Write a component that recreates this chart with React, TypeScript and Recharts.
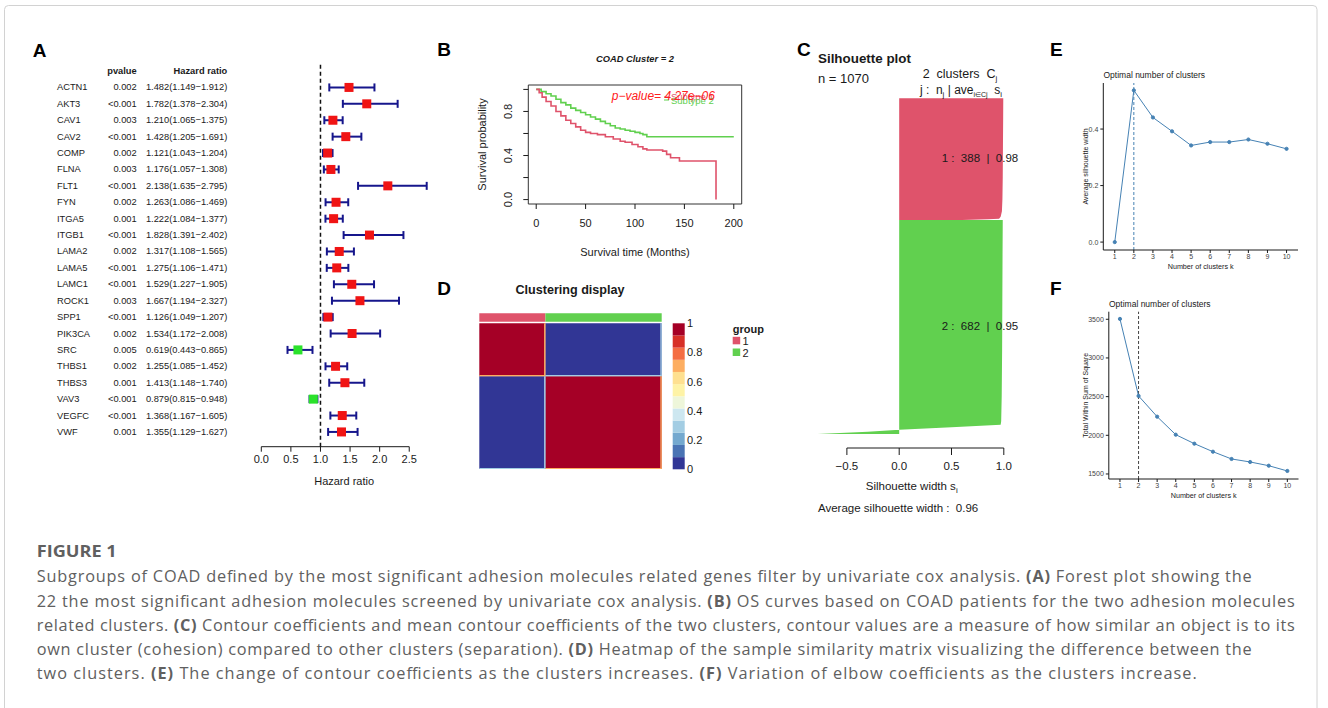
import React from "react";
import {
  Area,
  AreaChart,
  Bar,
  BarChart,
  ErrorBar,
  Line,
  LineChart,
  ReferenceArea,
  ReferenceLine,
  Scatter,
  ScatterChart,
  XAxis,
  YAxis,
} from "recharts";

// ---- A: univariate cox forest plot ----
const genes = [
  "ACTN1", "AKT3", "CAV1", "CAV2", "COMP", "FLNA", "FLT1", "FYN", "ITGA5", "ITGB1", "LAMA2",
  "LAMA5", "LAMC1", "ROCK1", "SPP1", "PIK3CA", "SRC", "THBS1", "THBS3", "VAV3", "VEGFC", "VWF",
];
const pvalues = [
  "0.002", "<0.001", "0.003", "<0.001", "0.002", "0.003", "<0.001", "0.002", "0.001", "<0.001", "0.002",
  "<0.001", "<0.001", "0.003", "<0.001", "0.002", "0.005", "0.002", "0.001", "<0.001", "<0.001", "0.001",
];
const hazardRatio = [
  1.482, 1.782, 1.21, 1.428, 1.121, 1.176, 2.138, 1.263, 1.222, 1.828, 1.317,
  1.275, 1.529, 1.667, 1.126, 1.534, 0.619, 1.255, 1.413, 0.879, 1.368, 1.355,
];
const hrLower = [
  1.149, 1.378, 1.065, 1.205, 1.043, 1.057, 1.635, 1.086, 1.084, 1.391, 1.108,
  1.106, 1.227, 1.194, 1.049, 1.172, 0.443, 1.085, 1.148, 0.815, 1.167, 1.129,
];
const hrUpper = [
  1.912, 2.304, 1.375, 1.691, 1.204, 1.308, 2.795, 1.469, 1.377, 2.402, 1.565,
  1.471, 1.905, 2.327, 1.207, 2.008, 0.865, 1.452, 1.74, 0.948, 1.605, 1.627,
];
const hrTicks = [0, 0.5, 1, 1.5, 2, 2.5];

// ---- B: KM curves ----
const survTime1 = [0, 3, 6, 10, 15, 20, 25, 30, 35, 40, 45, 50, 55, 62, 70, 78, 85, 90, 97, 103, 108, 112, 128, 132, 136, 145, 182];
const survProb1 = [1, 0.97, 0.93, 0.89, 0.85, 0.8, 0.76, 0.72, 0.69, 0.66, 0.63, 0.61, 0.6, 0.59, 0.57, 0.55, 0.53, 0.52, 0.5, 0.48, 0.46, 0.45, 0.44, 0.41, 0.38, 0.35, 0];
const survTime2 = [0, 5, 10, 15, 20, 25, 30, 35, 40, 45, 50, 55, 60, 65, 70, 75, 80, 85, 90, 95, 100, 105, 108, 112, 200];
const survProb2 = [1, 0.98, 0.96, 0.94, 0.91, 0.88, 0.86, 0.83, 0.81, 0.79, 0.77, 0.75, 0.73, 0.71, 0.69, 0.67, 0.65, 0.64, 0.63, 0.62, 0.61, 0.6, 0.59, 0.57, 0.57];
const survXTicks = [0, 50, 100, 150, 200];
const survYTicks = [0, 0.2, 0.4, 0.6, 0.8, 1];
const survYLabelled = [0, 0.4, 0.8];

// ---- C: silhouette ----
const clusterSizes = [388, 682];
const clusterMeanSil = ["0.98", "0.95"];
const sil1Obs = [0, 60, 150, 250, 320, 360, 378, 384, 386, 388];
const sil1Width = [0.995, 0.994, 0.992, 0.99, 0.987, 0.982, 0.97, 0.955, 0.85, 0.6];
const sil2Obs = [388, 500, 650, 800, 950, 1030, 1041, 1049, 1057, 1063, 1070];
const sil2Width = [0.99, 0.988, 0.986, 0.984, 0.98, 0.975, 0.97, 0.5, 0, -0.3, -0.78];
const silTicks = [-0.5, 0, 0.5, 1];

// ---- D: consensus heatmap ----
const clusterSimilarity = [
  [1, 0],
  [0, 1],
];
const tailSize = 8;
const tailOwnSimilarity = 0.68;
const tailOtherSimilarity = 0.3;
const heatPalette = [
  "#313695", "#4A74B4", "#74A9CF", "#A3CDE3", "#CDE7F0", "#EEF6DA",
  "#FEF3A6", "#FEE090", "#FDAE61", "#F46D43", "#D73027", "#A50026",
];
const colorbarTicks = [0, 0.2, 0.4, 0.6, 0.8, 1];

// ---- E / F: optimal k ----
const kValues = [1, 2, 3, 4, 5, 6, 7, 8, 9, 10];
const avgSilWidth = [0, 0.537, 0.441, 0.392, 0.342, 0.354, 0.354, 0.363, 0.348, 0.33];
const totalWss = [3505, 2509, 2241, 2008, 1892, 1788, 1694, 1655, 1607, 1539];

const captionLines = [
  ["Subgroups of COAD defined by the most significant adhesion molecules related genes filter by univariate cox analysis. ", "(A)", " Forest plot showing the"],
  ["22 the most significant adhesion molecules screened by univariate cox analysis. ", "(B)", " OS curves based on COAD patients for the two adhesion molecules"],
  ["related clusters. ", "(C)", " Contour coefficients and mean contour coefficients of the two clusters, contour values are a measure of how similar an object is to its"],
  ["own cluster (cohesion) compared to other clusters (separation). ", "(D)", " Heatmap of the sample similarity matrix visualizing the difference between the"],
  ["two clusters. ", "(E)", " The change of contour coefficients as the clusters increases. ", "(F)", " Variation of elbow coefficients as the clusters increase."],
];
const captionWidths = [1215, 1258, 1258, 1215, 1160];

const ARIAL = '"Liberation Sans", Arial, Helvetica, sans-serif';
const R_RED = "#DF536B";
const R_GREEN = "#61D04F";
const STEEL = "#4682B4";
const INK = "#1a1a1a";

const forestRows = genes.map((gene, i) => ({
  gene,
  pvalue: pvalues[i],
  hr: hazardRatio[i],
  row: genes.length - i,
  err: [hazardRatio[i] - hrLower[i], hrUpper[i] - hazardRatio[i]],
  text: `${hazardRatio[i].toFixed(3)}(${hrLower[i].toFixed(3)}\u2212${hrUpper[i].toFixed(3)})`,
}));
const HEADER_ROW = genes.length + 1;

const survival1 = survTime1.map((t, i) => ({ t, s: survProb1[i] }));
const survival2 = survTime2.map((t, i) => ({ t, s: survProb2[i] }));

// in a vertical layout the numeric y axis grows downwards: observation 0 sits on top
const silhouetteTable = [
  ...sil1Obs.map((obs, i) => ({ obs, s1: sil1Width[i] })),
  ...sil2Obs.map((obs, i) => ({ obs, s2: sil2Width[i] })),
];
const totalN = clusterSizes[0] + clusterSizes[1];
const SIL_BOTTOM = 1115;

const heatColor = (v: number) => heatPalette[Math.min(heatPalette.length - 1, Math.floor(v * heatPalette.length))];
const clusterStart = clusterSizes.map((_, i) => clusterSizes.slice(0, i).reduce((a, b) => a + b, 0));
const heatCells: { x1: number; x2: number; y1: number; y2: number; v: number }[] = [];
clusterSizes.forEach((ni, i) => {
  clusterSizes.forEach((nj, j) => {
    heatCells.push({ x1: clusterStart[j], x2: clusterStart[j] + nj, y1: -clusterStart[i], y2: -(clusterStart[i] + ni), v: clusterSimilarity[i][j] });
  });
});
clusterSizes.forEach((nj, j) => {
  const t1 = clusterStart[j] + nj - tailSize;
  const t2 = clusterStart[j] + nj;
  clusterSizes.forEach((ni, i) => {
    const v = i === j ? tailOwnSimilarity : tailOtherSimilarity;
    heatCells.push({ x1: t1, x2: t2, y1: -clusterStart[i], y2: -(clusterStart[i] + ni), v });
    heatCells.push({ x1: clusterStart[i], x2: clusterStart[i] + ni, y1: -t1, y2: -t2, v });
  });
});
const heatCorners = [
  { x: 0, y: 0 },
  { x: totalN, y: -totalN },
];
const colorbarRow: Record<string, number | string> = { name: "cb" };
heatPalette.forEach((_, i) => (colorbarRow[`s${i}`] = 1 / heatPalette.length));

const optimalTable = kValues.map((k, i) => ({ k, sil: avgSilWidth[i], wss: totalWss[i] }));

function ForestTableTick(props: any) {
  const { x, y, payload } = props;
  const base = { y, dominantBaseline: "central" as const, fontSize: 9.3, fill: INK };
  if (payload.value === HEADER_ROW) {
    return (
      <g>
        <text x={x - 124.6} textAnchor="end" fontWeight="bold" {...base}>pvalue</text>
        <text x={x - 34} textAnchor="end" fontWeight="bold" {...base}>Hazard ratio</text>
      </g>
    );
  }
  const r = forestRows.find((d) => d.row === payload.value);
  if (!r) return <g />;
  return (
    <g>
      <text x={x - 204.3} textAnchor="start" {...base}>{r.gene}</text>
      <text x={x - 124.6} textAnchor="end" {...base}>{r.pvalue}</text>
      <text x={x - 34} textAnchor="end" {...base}>{r.text}</text>
    </g>
  );
}

function ForestBox(props: any) {
  const { cx, cy, payload } = props;
  return <rect x={cx - 4.5} y={cy - 4.5} width={9} height={9} fill={payload.hr < 1 ? "#2BE22B" : "#F01414"} />;
}

function SurvivalYTick(props: any) {
  const { x, y, payload } = props;
  if (!survYLabelled.some((v) => Math.abs(v - payload.value) < 1e-9)) return <g />;
  return (
    <text transform={`translate(${x},${y}) rotate(-90)`} textAnchor="middle" fontSize={11} fill={INK}>
      {payload.value.toFixed(1)}
    </text>
  );
}

const fmtSil = (v: number) => (v < 0 ? `\u2212${Math.abs(v).toFixed(1)}` : v.toFixed(1));

function Sub({ children, size = 8 }: { children: React.ReactNode; size?: number }) {
  return <tspan fontSize={size} dy={3}>{children}</tspan>;
}

export default function App() {
  const place = (left: number, top: number): React.CSSProperties => ({ position: "absolute", left, top });
  return (
    <div
      style={{
        position: "absolute",
        left: 0,
        top: 0,
        width: 1328,
        height: 708,
        background: "#fff",
        overflow: "hidden",
        fontFamily: ARIAL,
      }}
    >
      {/* A */}
      <div style={place(40, 40)}>
        <ScatterChart width={400} height={460} margin={{ top: 22, right: 13, bottom: 0, left: 0 }}>
          <XAxis
            type="number"
            dataKey="hr"
            domain={[0, 2.8]}
            ticks={hrTicks}
            tickFormatter={(v: number) => v.toFixed(1)}
            axisLine={false}
            tickLine={{ stroke: INK }}
            tickSize={5}
            tickMargin={3}
            height={53.3}
            tick={{ fontSize: 11, fill: INK }}
            label={{ value: "Hazard ratio", position: "insideBottom", offset: 15, fontSize: 11, fill: INK }}
          />
          <YAxis
            type="number"
            dataKey="row"
            domain={[0.1, 23.55]}
            ticks={[HEADER_ROW, ...forestRows.map((r) => r.row)]}
            interval={0}
            width={221.3}
            axisLine={false}
            tickLine={false}
            tickSize={0}
            tickMargin={0}
            tick={ForestTableTick}
          />
          <ReferenceLine x={1} stroke="#111" strokeDasharray="4 3" strokeWidth={1.5} />
          <ReferenceLine segment={[{ x: 0, y: 0.1 }, { x: 2.5, y: 0.1 }]} stroke={INK} />
          <Scatter data={forestRows} isAnimationActive={false} shape={ForestBox}>
            <ErrorBar dataKey="err" direction="x" width={4} strokeWidth={2} stroke="#16168c" />
          </Scatter>
        </ScatterChart>
      </div>

      {/* B */}
      <div style={place(460, 40)}>
        <LineChart width={300} height={230} margin={{ top: 45, right: 18.3, bottom: 0, left: 0 }}>
          <XAxis
            type="number"
            dataKey="t"
            domain={[-8, 208]}
            ticks={survXTicks}
            axisLine={false}
            tickLine={{ stroke: INK }}
            tickSize={5}
            tickMargin={10}
            height={66}
            tick={{ fontSize: 11, fill: INK }}
            label={{ value: "Survival time (Months)", position: "insideBottom", offset: 14, fontSize: 11, fill: INK }}
          />
          <YAxis
            type="number"
            domain={[-0.04, 1.04]}
            ticks={survYTicks}
            interval={0}
            axisLine={false}
            tickLine={{ stroke: INK }}
            tickSize={5}
            tickMargin={11}
            width={68.3}
            tick={SurvivalYTick}
            label={{
              value: "Survival probability",
              angle: -90,
              position: "insideLeft",
              offset: 21.7,
              fontSize: 11,
              fill: INK,
              style: { textAnchor: "middle" },
            }}
          />
          <ReferenceArea x1={-8} x2={208} y1={-0.04} y2={1.04} fill="none" stroke="#333" strokeWidth={1} />
          <Line data={survival2} dataKey="s" type="stepAfter" stroke={R_GREEN} strokeWidth={1.6} dot={false} isAnimationActive={false} />
          <Line data={survival1} dataKey="s" type="stepAfter" stroke={R_RED} strokeWidth={1.6} dot={false} isAnimationActive={false} />
        </LineChart>
      </div>

      {/* C */}
      <div style={place(800, 90)}>
        <AreaChart
          layout="vertical"
          width={230}
          height={420}
          data={silhouetteTable}
          margin={{ top: 8.3, right: 26.2, bottom: 0, left: 15.5 }}
        >
          <XAxis
            type="number"
            domain={[-0.8, 1]}
            ticks={silTicks}
            tickFormatter={fmtSil}
            axisLine={false}
            tickLine={{ stroke: INK }}
            tickSize={7}
            tickMargin={7}
            height={62}
            tick={{ fontSize: 11.5, fill: INK }}
          />
          <YAxis type="number" dataKey="obs" domain={[0, SIL_BOTTOM]} hide />
          <Area dataKey="s1" type="linear" baseValue={0} fill={R_RED} fillOpacity={1} stroke="none" dot={false} activeDot={false} isAnimationActive={false} />
          <Area dataKey="s2" type="linear" baseValue={0} fill={R_GREEN} fillOpacity={1} stroke="none" dot={false} activeDot={false} isAnimationActive={false} />
          <ReferenceLine segment={[{ x: -0.5, y: SIL_BOTTOM }, { x: 1, y: SIL_BOTTOM }]} stroke={INK} />
        </AreaChart>
      </div>

      {/* D heatmap */}
      <div style={place(470, 305)}>
        <ScatterChart width={200} height={175} margin={{ top: 8.3, right: 8.3, bottom: 11, left: 9.3 }}>
          <XAxis type="number" dataKey="x" domain={[0, totalN]} hide />
          <YAxis type="number" dataKey="y" domain={[-totalN, 73.5]} hide />
          {heatCells.map((c, i) => (
            <ReferenceArea key={i} x1={c.x1} x2={c.x2} y1={c.y1} y2={c.y2} fill={heatColor(c.v)} fillOpacity={1} stroke="none" ifOverflow="visible" />
          ))}
          <ReferenceArea x1={0} x2={clusterSizes[0]} y1={11.8} y2={73.5} fill={R_RED} fillOpacity={1} stroke="none" ifOverflow="visible" />
          <ReferenceArea x1={clusterSizes[0]} x2={totalN} y1={11.8} y2={73.5} fill={R_GREEN} fillOpacity={1} stroke="none" ifOverflow="visible" />
          <Scatter data={heatCorners} isAnimationActive={false} shape={() => <g />} />
        </ScatterChart>
      </div>
      <div style={place(665, 318)}>
        <BarChart width={45} height={158} data={[colorbarRow]} margin={{ top: 5.3, right: 0, bottom: 6.7, left: 7.7 }} barCategoryGap={0}>
          <XAxis dataKey="name" hide />
          <YAxis
            orientation="right"
            type="number"
            domain={[0, 1]}
            ticks={colorbarTicks}
            interval={0}
            tickFormatter={(v: number) => (v === 0 || v === 1 ? String(v) : v.toFixed(1))}
            width={25}
            axisLine={false}
            tickLine={false}
            tickSize={0}
            tickMargin={2}
            tick={{ fontSize: 11, fill: INK }}
          />
          {heatPalette.map((c, i) => (
            <Bar key={c} dataKey={`s${i}`} stackId="cb" fill={c} isAnimationActive={false} />
          ))}
        </BarChart>
      </div>

      {/* E */}
      <div style={place(1060, 70)}>
        <LineChart width={260} height={200} data={optimalTable} margin={{ top: 13, right: 22, bottom: 0, left: 0 }}>
          <XAxis
            type="number"
            dataKey="k"
            domain={[0.4, 10.6]}
            ticks={kValues}
            interval={0}
            axisLine={{ stroke: INK }}
            tickLine={{ stroke: INK }}
            tickSize={3}
            tickMargin={1}
            height={20}
            tick={{ fontSize: 7, fill: "#444" }}
            label={{ value: "Number of clusters k", position: "insideBottom", offset: 1, fontSize: 7.2, fill: INK }}
          />
          <YAxis
            type="number"
            domain={[-0.028, 0.563]}
            ticks={[0, 0.2, 0.4]}
            tickFormatter={(v: number) => v.toFixed(1)}
            axisLine={{ stroke: INK }}
            tickLine={{ stroke: INK }}
            tickSize={3}
            tickMargin={2}
            width={43.3}
            tick={{ fontSize: 7, fill: "#444" }}
            label={{
              value: "Average silhouette width",
              angle: -90,
              position: "insideLeft",
              offset: 25.7,
              fontSize: 7,
              fill: INK,
              style: { textAnchor: "middle" },
            }}
          />
          <ReferenceLine x={2} stroke={STEEL} strokeDasharray="3 2" />
          <Line dataKey="sil" stroke={STEEL} strokeWidth={1} dot={{ r: 1.6, fill: STEEL, stroke: STEEL }} isAnimationActive={false} />
        </LineChart>
      </div>

      {/* F */}
      <div style={place(1060, 300)}>
        <LineChart width={260} height={200} data={optimalTable} margin={{ top: 11.7, right: 21.5, bottom: 0, left: 0 }}>
          <XAxis
            type="number"
            dataKey="k"
            domain={[0.4, 10.6]}
            ticks={kValues}
            interval={0}
            axisLine={{ stroke: INK }}
            tickLine={{ stroke: INK }}
            tickSize={3}
            tickMargin={1}
            height={21}
            tick={{ fontSize: 7, fill: "#444" }}
            label={{ value: "Number of clusters k", position: "insideBottom", offset: 2, fontSize: 7.2, fill: INK }}
          />
          <YAxis
            type="number"
            domain={[1435, 3598]}
            ticks={[1500, 2000, 2500, 3000, 3500]}
            axisLine={{ stroke: INK }}
            tickLine={{ stroke: INK }}
            tickSize={3}
            tickMargin={2}
            width={48.8}
            tick={{ fontSize: 7, fill: "#444" }}
            label={{
              value: "Total Within Sum of Square",
              angle: -90,
              position: "insideLeft",
              offset: 25.7,
              fontSize: 7,
              fill: INK,
              style: { textAnchor: "middle" },
            }}
          />
          <ReferenceLine x={2} stroke="#444" strokeDasharray="3 2" />
          <Line dataKey="wss" stroke={STEEL} strokeWidth={1} dot={{ r: 1.6, fill: STEEL, stroke: STEEL }} isAnimationActive={false} />
        </LineChart>
      </div>

      {/* text overlay */}
      <svg width={1328} height={708} style={{ position: "absolute", left: 0, top: 0, pointerEvents: "none" }}>
        <rect x={4.5} y={5.5} width={1312.5} height={740} rx={4} fill="none" stroke="#d2d2d2" />
        <g fontWeight="bold" fontSize={19} fill="#000">
          <text x={32.7} y={56.7}>A</text>
          <text x={437.3} y={56}>B</text>
          <text x={797} y={56}>C</text>
          <text x={437.3} y={295}>D</text>
          <text x={1050} y={56}>E</text>
          <text x={1050} y={295}>F</text>
        </g>

        <text x={635} y={61.5} textAnchor="middle" fontSize={9.3} fontWeight="bold" fontStyle="italic" fill={INK}>
          COAD Cluster = 2
        </text>
        <line x1={664} x2={669} y1={97} y2={97} stroke={R_RED} />
        <text x={671} y={100} fontSize={9.5} fill={R_RED}>Subtype 1</text>
        <line x1={664} x2={669} y1={100} y2={100} stroke={R_GREEN} />
        <text x={671} y={103.5} fontSize={9.5} fill={R_GREEN}>Subtype 2</text>
        <text x={611.7} y={100} fontSize={12} fontStyle="italic" fill="#FF2020">p{"\u2212"}value= 4.27e{"\u2212"}06</text>

        <text x={818} y={63.3} fontSize={13.4} fontWeight="bold" fill={INK}>Silhouette plot</text>
        <text x={818} y={82.5} fontSize={13} fill={INK}>n = {totalN}</text>
        <text x={960} y={78.3} textAnchor="middle" fontSize={12.5} fill={INK} style={{ whiteSpace: "pre" }}>
          {`${clusterSizes.length}  clusters  C`}<Sub>j</Sub>
        </text>
        <text x={961} y={94} textAnchor="middle" fontSize={12} fill={INK} style={{ whiteSpace: "pre" }}>
          {"j :  n"}
          <Sub>j</Sub>
          <tspan dy={-3}>{" | ave"}</tspan>
          <Sub size={7}>i{"\u2208"}Cj</Sub>
          <tspan dy={-3}>{"  s"}</tspan>
          <Sub>i</Sub>
        </text>
        <text x={941.7} y={161.7} fontSize={11.5} fill={INK} style={{ whiteSpace: "pre" }}>
          {`1 :  ${clusterSizes[0]}  |  ${clusterMeanSil[0]}`}
        </text>
        <text x={941.7} y={330} fontSize={11.5} fill={INK} style={{ whiteSpace: "pre" }}>
          {`2 :  ${clusterSizes[1]}  |  ${clusterMeanSil[1]}`}
        </text>
        <text x={911.7} y={490} textAnchor="middle" fontSize={11.5} fill={INK}>
          Silhouette width s<Sub>i</Sub>
        </text>
        <text x={818} y={511.7} fontSize={11.5} fill={INK} style={{ whiteSpace: "pre" }}>
          Average silhouette width :  0.96
        </text>

        <text x={570} y={294} textAnchor="middle" fontSize={12.6} fontWeight="bold" fill={INK}>Clustering display</text>
        <text x={732.7} y={332.7} fontSize={11} fontWeight="bold" fill={INK}>group</text>
        <rect x={732.7} y={336.8} width={7.5} height={7.5} fill={R_RED} />
        <text x={742.5} y={345} fontSize={11} fill={INK}>1</text>
        <rect x={732.7} y={348.5} width={7.5} height={7.5} fill={R_GREEN} />
        <text x={742.5} y={356.5} fontSize={11} fill={INK}>2</text>

        <text x={1103.5} y={78} fontSize={8.5} fill={INK}>Optimal number of clusters</text>
        <text x={1109} y={306.5} fontSize={8.5} fill={INK}>Optimal number of clusters</text>

        <g fontFamily='"Open Sans", "Noto Sans", sans-serif' fill="#606060">
          <text x={36.7} y={557} fontSize={16} fontWeight="bold" textLength={80} lengthAdjust="spacingAndGlyphs">
            FIGURE 1
          </text>
          {captionLines.map((parts, li) => (
            <text
              key={li}
              x={36.7}
              y={582.3 + li * 24.2}
              fontSize={16.3}
              textLength={captionWidths[li]}
              lengthAdjust="spacing"
              style={{ whiteSpace: "pre" }}
            >
              {parts.map((p, pi) => (
                <tspan key={pi} fontWeight={pi % 2 === 1 ? "bold" : "normal"}>{p}</tspan>
              ))}
            </text>
          ))}
        </g>
      </svg>
    </div>
  );
}
